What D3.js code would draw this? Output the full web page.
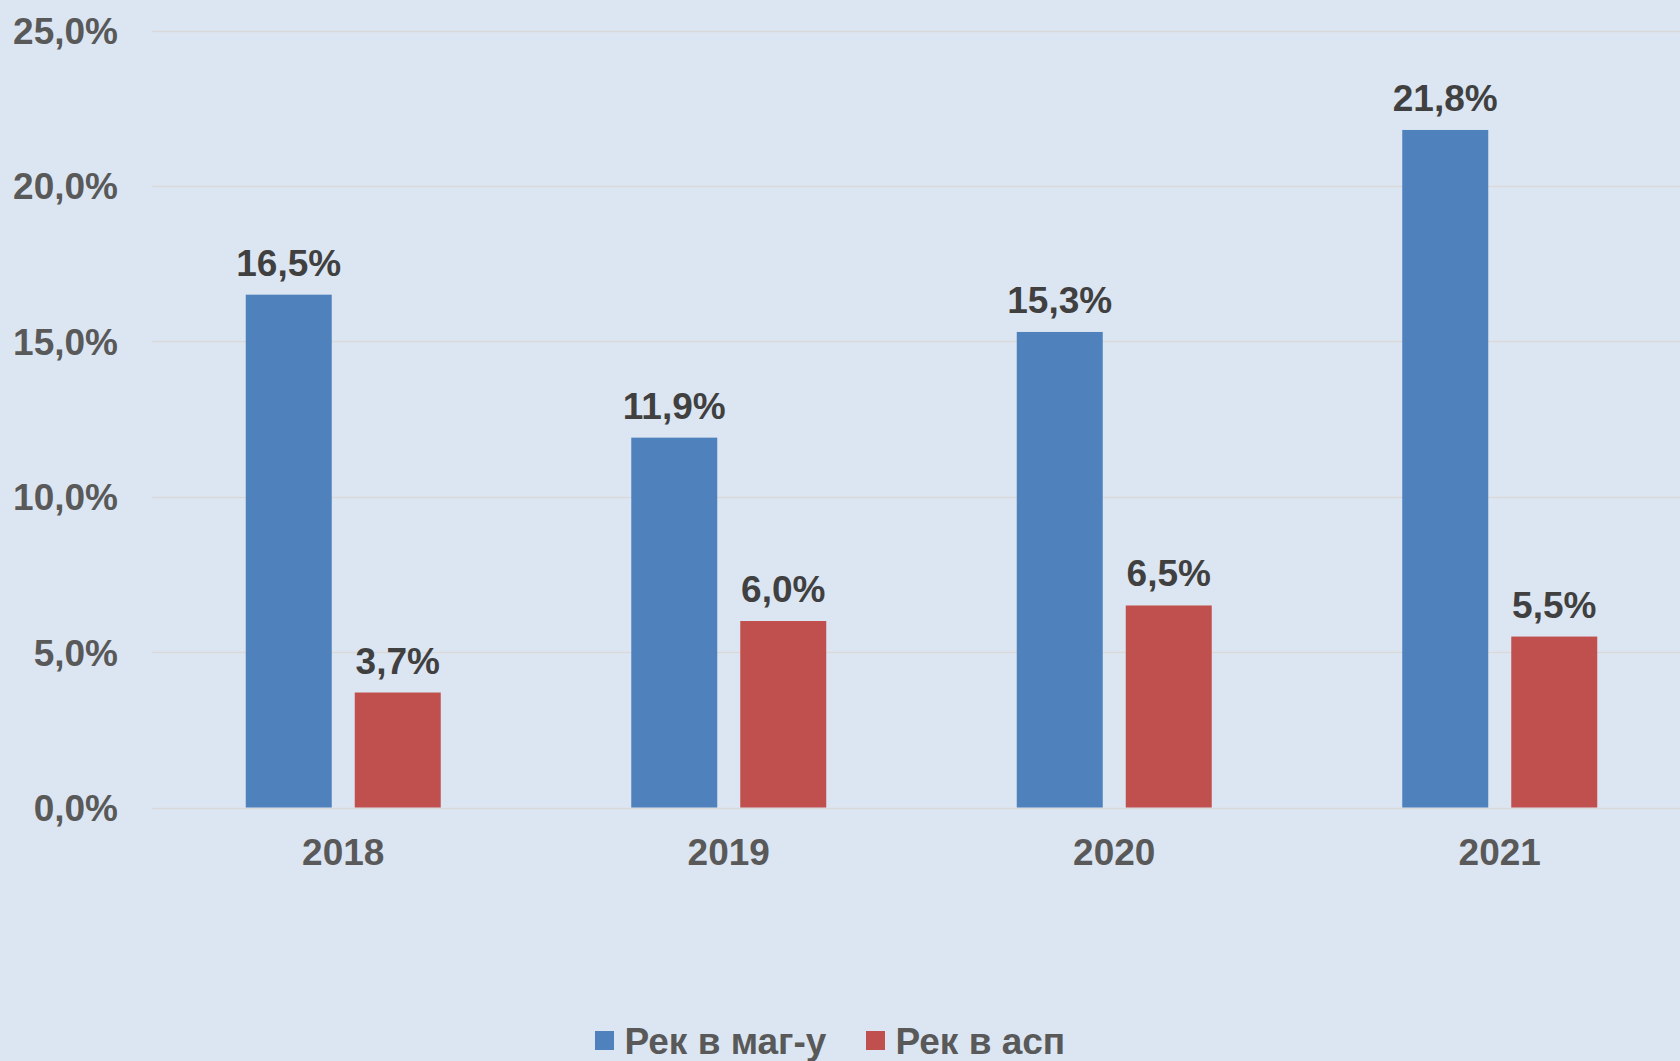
<!DOCTYPE html>
<html>
<head>
<meta charset="utf-8">
<script src="https://cdn.jsdelivr.net/npm/d3@7"></script>
<style>
html,body{margin:0;padding:0;background:#DCE6F2;overflow:hidden;}
svg{display:block;font-family:"Liberation Sans",Arial,sans-serif;font-weight:bold;}
</style>
</head>
<body>
<svg id="chart" width="1680" height="1061"></svg>
<script>
const categories = ["2018", "2019", "2020", "2021"];
const seriesNames = ["Рек в маг-у", "Рек в асп"];
const magValues = [16.5, 11.9, 15.3, 21.8];
const aspValues = [3.7, 6.0, 6.5, 5.5];
const yTicks = [0, 5, 10, 15, 20, 25];
const colors = ["#4F81BD", "#C0504D"];

const svg = d3.select("#chart");
const W = 1680, H = 1061;
svg.append("rect").attr("width", W).attr("height", H).attr("fill", "#DCE6F2");

const x = d3.scaleBand().domain(categories).range([150.5, 1692.5]).paddingInner(0).paddingOuter(0);
const y = d3.scaleLinear().domain([0, 25]).range([807.5, 30.5]);
const fmt = v => v.toFixed(1).replace(".", ",") + "%";

// gridlines
svg.append("g").selectAll("line").data(yTicks).join("line")
  .attr("x1", 152).attr("x2", 1694)
  .attr("y1", d => Math.round(y(d)) + 0.5).attr("y2", d => Math.round(y(d)) + 0.5)
  .attr("stroke", "#D9D9D9").attr("stroke-width", 1.5);

// y axis labels
const yAxis = d3.axisLeft(y).tickValues(yTicks).tickFormat(fmt).tickSize(0).tickPadding(0);
const ya = svg.append("g").attr("transform", "translate(118,0)").call(yAxis);
ya.select(".domain").remove();
ya.selectAll("text").attr("font-size", 37).attr("font-weight", "bold")
  .attr("fill", "#595959").attr("font-family", "'Liberation Sans', Arial, sans-serif")
  .attr("dy", "0.35em");

// x axis labels
const xAxis = d3.axisBottom(x).tickSize(0).tickPadding(0);
const xa = svg.append("g").attr("transform", "translate(0,865)").call(xAxis);
xa.select(".domain").remove();
xa.selectAll("text").attr("font-size", 37).attr("font-weight", "bold")
  .attr("fill", "#595959").attr("font-family", "'Liberation Sans', Arial, sans-serif")
  .attr("dy", 0).attr("y", 0);

// bars
const sub = d3.scaleBand().domain([0, 1]).range([0, 195]).paddingInner(23 / 109);
const data = [];
categories.forEach((c, i) => {
  data.push({cat: c, s: 0, v: magValues[i]});
  data.push({cat: c, s: 1, v: aspValues[i]});
});
const groupOffset = x.bandwidth() / 2 - 97.5;
svg.append("g").selectAll("rect").data(data).join("rect")
  .attr("x", d => x(d.cat) + groupOffset + sub(d.s))
  .attr("y", d => y(d.v))
  .attr("width", sub.bandwidth())
  .attr("height", d => y(0) - y(d.v))
  .attr("fill", d => colors[d.s]);

// data labels
svg.append("g").selectAll("text").data(data).join("text")
  .attr("x", d => x(d.cat) + groupOffset + sub(d.s) + sub.bandwidth() / 2)
  .attr("y", d => y(d.v) - 19)
  .attr("text-anchor", "middle")
  .attr("font-size", 37).attr("fill", "#404040")
  .text(d => fmt(d.v));

// legend
const legend = svg.append("g");
const legX = [595, 866];
seriesNames.forEach((n, i) => {
  legend.append("rect").attr("x", legX[i]).attr("y", 1031).attr("width", 19).attr("height", 19).attr("fill", colors[i]);
  legend.append("text").attr("x", legX[i] + 29.5).attr("y", 1054)
    .attr("font-size", 37).attr("fill", "#595959").text(n);
});
</script>
</body>
</html>
